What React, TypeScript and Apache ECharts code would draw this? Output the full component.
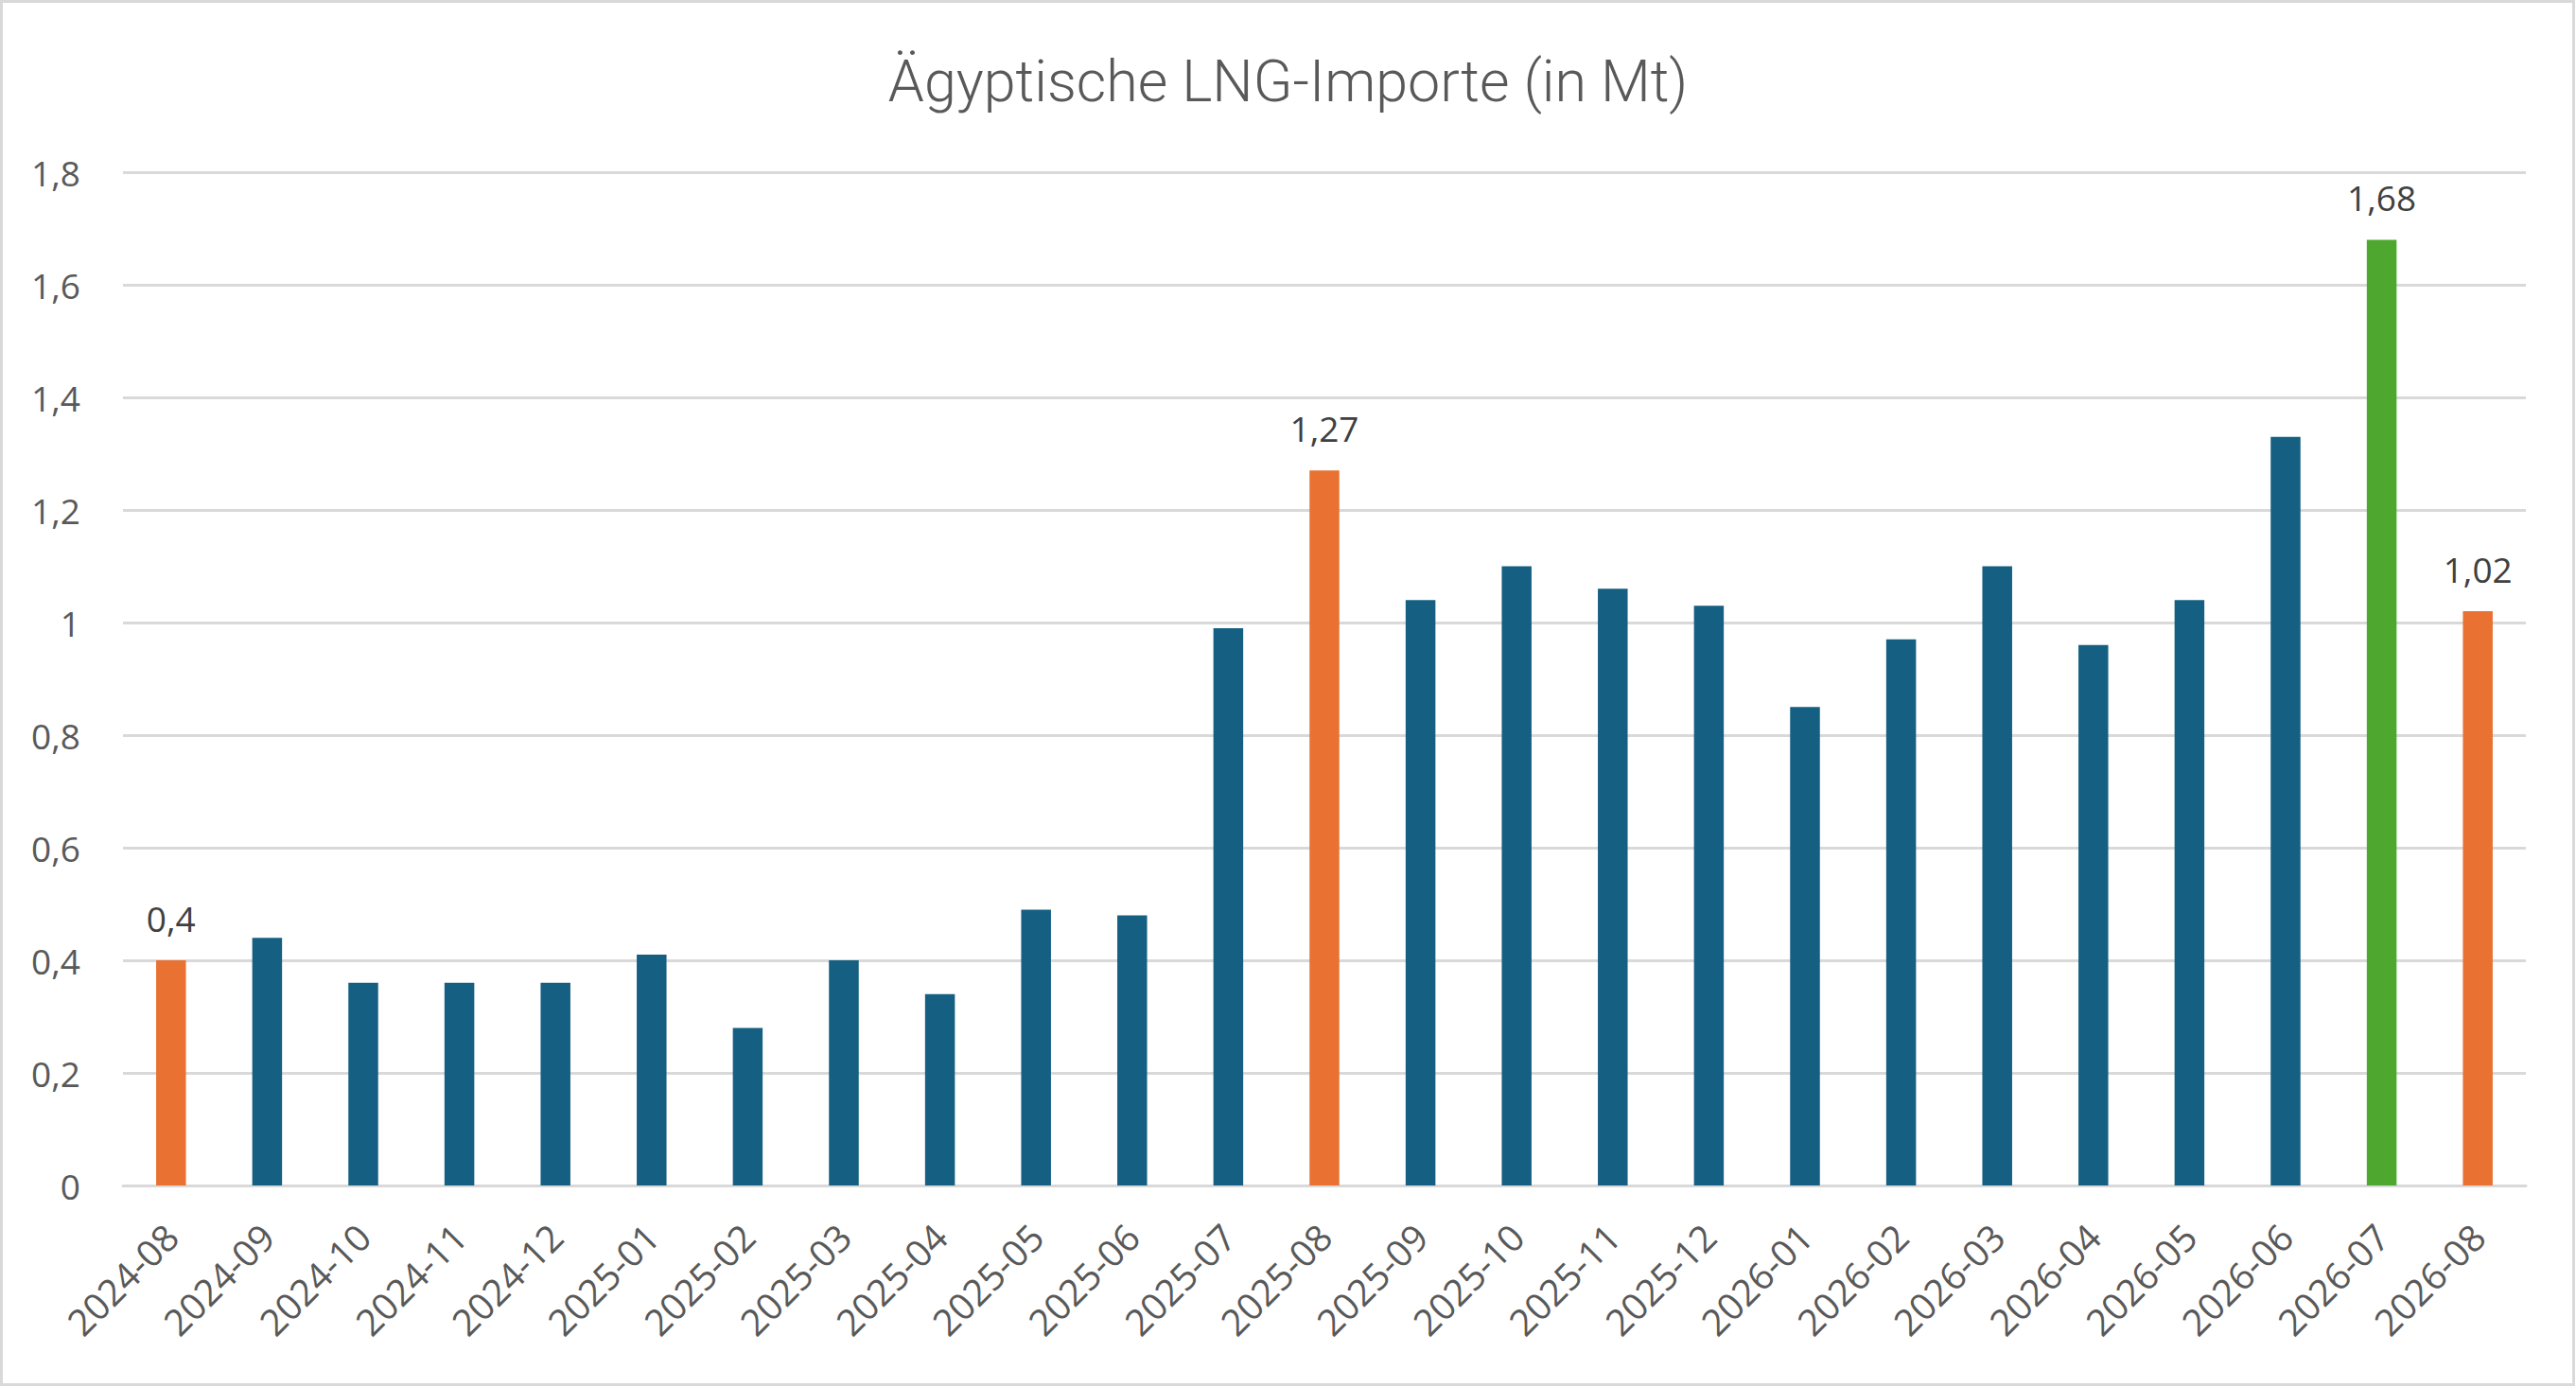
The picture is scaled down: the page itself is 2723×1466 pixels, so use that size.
import React, { useEffect, useRef } from "react";
import * as echarts from "echarts";

const categories = [
  "2024-08", "2024-09", "2024-10", "2024-11", "2024-12",
  "2025-01", "2025-02", "2025-03", "2025-04", "2025-05", "2025-06", "2025-07", "2025-08",
  "2025-09", "2025-10", "2025-11", "2025-12",
  "2026-01", "2026-02", "2026-03", "2026-04", "2026-05", "2026-06", "2026-07", "2026-08",
];
const values = [
  0.40, 0.44, 0.36, 0.36, 0.36,
  0.41, 0.28, 0.40, 0.34, 0.49, 0.48, 0.99, 1.27,
  1.04, 1.10, 1.06, 1.03,
  0.85, 0.97, 1.10, 0.96, 1.04, 1.33, 1.68, 1.02,
];
// which bars are highlighted and labelled
const orangeCats = ["2024-08", "2025-08", "2026-08"];
const greenCats = ["2026-07"];
const title = "Ägyptische LNG-Importe (in Mt)";

const BLUE = "#156082";
const ORANGE = "#E97132";
const GREEN = "#4EA72E";

const fmt = (v: number) => String(Number(v.toFixed(2))).replace(".", ",");

export default function App() {
  const ref = useRef<HTMLDivElement>(null);
  useEffect(() => {
    document.body.style.margin = "0";
    const chart = echarts.init(ref.current!, null, { renderer: "svg" });
    const data = values.map((v, i) => {
      const c = categories[i];
      const isO = orangeCats.includes(c);
      const isG = greenCats.includes(c);
      const item: any = {
        value: v,
        itemStyle: { color: isO ? ORANGE : isG ? GREEN : BLUE },
      };
      if (isO || isG) {
        item.label = {
          show: true,
          position: "top",
          distance: 26,
          formatter: (p: any) => fmt(p.value),
          fontFamily: "Open Sans",
          fontSize: 37,
          color: "#404040",
        };
      }
      return item;
    });
    chart.setOption({
      animation: false,
      backgroundColor: "#ffffff",
      title: {
        text: title,
        left: "center",
        top: 50,
        textStyle: {
          fontFamily: "Roboto",
          fontWeight: 300,
          fontSize: 61,
          color: "#595959",
        },
      },
      graphic: [
        {
          type: "rect",
          shape: { x: 1.5, y: 1.5, width: 2719, height: 1462 },
          style: { fill: "none", stroke: "#d9d9d9", lineWidth: 3 },
          silent: true,
        },
      ],
      grid: { left: 130, right: 53, top: 182, bottom: 213, containLabel: false },
      xAxis: {
        type: "category",
        data: categories,
        axisTick: { show: false },
        axisLine: { show: true, lineStyle: { color: "#d9d9d9", width: 3 } },
        axisLabel: {
          rotate: 45,
          margin: 47,
          interval: 0,
          fontFamily: "Open Sans",
          fontSize: 39,
          color: "#595959",
        },
      },
      yAxis: {
        type: "value",
        min: 0,
        max: 1.8,
        interval: 0.2,
        axisLine: { show: false },
        axisTick: { show: false },
        splitLine: { lineStyle: { color: "#d9d9d9", width: 3 } },
        axisLabel: {
          margin: 45,
          fontFamily: "Open Sans",
          fontSize: 37,
          color: "#595959",
          formatter: (v: number) => fmt(v),
        },
      },
      series: [
        {
          type: "bar",
          data,
          barWidth: "31%",
        },
      ],
    });
    return () => chart.dispose();
  }, []);
  return <div ref={ref} style={{ width: 2723, height: 1466 }} />;
}
